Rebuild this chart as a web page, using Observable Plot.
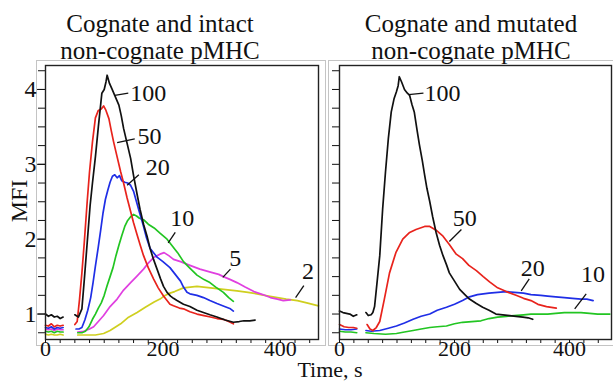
<!DOCTYPE html>
<html>
<head>
<meta charset="utf-8">
<script src="https://cdn.jsdelivr.net/npm/d3@7"></script>
<script src="https://cdn.jsdelivr.net/npm/@observablehq/plot@0.6"></script>
<style>
  body { margin: 0; background: #fff; }
  #wrap { position: relative; width: 613px; height: 381px; overflow: hidden; font-family: "Liberation Serif", "Times New Roman", serif; color: #111; }
  #wrap svg { position: absolute; top: 0; overflow: visible; }
  #wrap svg text { font-family: "Liberation Serif", "Times New Roman", serif !important; }
  .t { position: absolute; font-size: 25px; line-height: 27px; white-space: nowrap; text-align: center; transform: translateX(-50%); }
  .mfi { position: absolute; font-size: 24px; line-height: 24px; white-space: nowrap; transform: translate(-50%, -50%) rotate(-90deg); }
</style>
</head>
<body>
<div id="wrap"></div>
<script>
// ---------- tick values ----------
const yMajor = [1, 2, 3, 4];
const yMinor = [0.75, 1, 1.25, 1.5, 1.75, 2, 2.25, 2.5, 2.75, 3, 3.25, 3.5, 3.75, 4, 4.25];
const xMajor = [0, 200, 400];
const xMinor = [0, 25, 50, 75, 100, 125, 150, 175, 200, 225, 250, 275, 300, 325, 350, 375, 400, 425, 450];

// ---------- left panel: cognate + intact non-cognate pMHC ----------
const left100 = [[0,1.00],[5,0.97],[10,0.99],[15,0.96],[20,0.97],[25,0.94],[30,0.96],[40,NaN],
  [50,0.99],[56,0.96],[62,1.07],[66,1.45],[70,1.85],[76,2.45],[80,2.75],[85,3.1],[90,3.5],[96,3.95],[100,4.0],[103,4.1],[105,4.19],[109,4.08],[113,4.01],[119,3.9],[125,3.79],[129,3.65],[133,3.48],[139,3.28],[145,3.08],[150,2.85],[156,2.6],[161,2.4],[167,2.2],[173,2.04],[178,1.88],[184,1.73],[190,1.6],[196,1.47],[201,1.37],[207,1.29],[213,1.24],[218,1.21],[224,1.18],[235,1.13],[246,1.1],[258,1.05],[269,1.02],[280,0.99],[292,0.96],[306,0.92],[320,0.89],[330,0.9],[338,0.91],[348,0.91],[357,0.92]];
const left50 = [[0,0.85],[5,0.84],[10,0.87],[15,0.83],[20,0.85],[25,0.84],[30,0.85],[40,NaN],
  [50,0.86],[54,0.9],[58,1.2],[62,1.55],[66,1.95],[71,2.5],[75,2.9],[80,3.3],[85,3.62],[90,3.72],[95,3.74],[99,3.78],[103,3.72],[108,3.61],[112,3.45],[116,3.3],[122,3.1],[128,2.9],[133,2.75],[139,2.55],[144,2.4],[150,2.22],[156,2.06],[161,1.93],[167,1.78],[175,1.62],[184,1.47],[192,1.35],[201,1.24],[212,1.13],[218,1.11],[228,1.08],[235,1.07],[246,1.03],[258,1.0],[270,0.98],[281,0.96],[292,0.94],[303,0.93],[312,0.9],[320,0.87]];
const left20 = [[0,0.82],[5,0.81],[10,0.83],[15,0.8],[20,0.82],[25,0.81],[30,0.82],[40,NaN],
  [52,0.8],[57,0.8],[62,0.82],[67,0.92],[72,1.05],[77,1.22],[81,1.42],[85,1.64],[90,1.9],[94,2.12],[98,2.35],[102,2.53],[106,2.65],[110,2.76],[114,2.84],[118,2.86],[122,2.82],[126,2.85],[130,2.78],[135,2.76],[140,2.75],[145,2.72],[150,2.64],[155,2.5],[160,2.36],[166,2.2],[172,2.02],[178,1.88],[184,1.82],[190,1.76],[200,1.7],[212,1.62],[218,1.56],[224,1.5],[230,1.44],[235,1.36],[241,1.29],[246,1.27],[258,1.25],[269,1.22],[280,1.18],[292,1.14],[305,1.1],[315,1.07],[320,1.04]];
const left10 = [[0,0.77],[5,0.76],[10,0.77],[15,0.75],[20,0.77],[25,0.76],[30,0.76],[40,NaN],
  [55,0.75],[62,0.75],[68,0.77],[74,0.83],[80,0.93],[85,1.0],[90,1.08],[95,1.15],[100,1.25],[105,1.38],[110,1.5],[115,1.62],[120,1.78],[125,1.92],[130,2.05],[135,2.17],[140,2.25],[145,2.3],[150,2.33],[155,2.31],[160,2.28],[167,2.26],[175,2.2],[185,2.15],[195,2.08],[207,2.0],[215,1.92],[225,1.82],[235,1.7],[245,1.62],[258,1.52],[270,1.46],[280,1.42],[290,1.36],[303,1.29],[312,1.22],[320,1.17]];
const left5 = [[0,0.8],[5,0.79],[10,0.8],[15,0.78],[20,0.8],[25,0.79],[30,0.79],[40,NaN],
  [55,0.76],[65,0.77],[75,0.8],[82,0.83],[90,0.9],[99,0.98],[110,1.1],[122,1.2],[133,1.32],[145,1.42],[155,1.5],[167,1.6],[175,1.68],[185,1.76],[195,1.8],[202,1.82],[210,1.78],[218,1.73],[230,1.7],[246,1.65],[263,1.6],[281,1.56],[295,1.53],[303,1.5],[315,1.46],[326,1.42],[340,1.36],[355,1.3],[370,1.26],[383,1.22],[395,1.2],[405,1.18],[417,1.19]];
const left2 = [[0,0.73],[5,0.72],[10,0.73],[15,0.72],[20,0.72],[25,0.73],[30,0.72],[40,NaN],
  [55,0.72],[70,0.72],[85,0.72],[99,0.74],[110,0.78],[120,0.83],[128,0.87],[140,0.95],[156,1.02],[170,1.09],[185,1.16],[195,1.2],[202,1.24],[212,1.28],[220,1.3],[235,1.35],[258,1.37],[281,1.35],[303,1.33],[326,1.31],[345,1.29],[360,1.27],[380,1.24],[395,1.22],[410,1.2],[429,1.18],[445,1.15],[465,1.11]];

// label: [t, MFI, text]; leader: [t1, v1, t2, v2]
const leftLabels = [[175,3.95,"100"],[177,3.37,"50"],[191,2.96,"20"],[233,2.28,"10"],[323,1.75,"5"],[447,1.57,"2"]];
const leftLeaders = [[118,3.92,141,3.95],[122,3.29,152,3.34],[139,2.72,159,2.86],[209,1.95,221,2.09],[302,1.49,315,1.6],[426,1.22,440,1.38]];

// ---------- right panel: cognate + mutated non-cognate pMHC ----------
const right100 = [[0,1.04],[6,1.02],[12,1.01],[18,1.0],[24,0.97],[30,0.99],[38,NaN],
  [46,1.02],[50,0.98],[55,0.99],[58,1.02],[61,1.1],[65,1.4],[70,1.78],[75,2.4],[80,2.9],[85,3.35],[90,3.7],[95,3.88],[99,3.97],[102,4.05],[104,4.17],[108,4.1],[113,4.0],[118,3.95],[122,3.92],[126,3.8],[130,3.7],[135,3.45],[139,3.26],[144,3.05],[148,2.86],[152,2.68],[157,2.5],[162,2.3],[168,2.09],[174,1.92],[180,1.78],[186,1.66],[191,1.55],[200,1.44],[209,1.33],[218,1.26],[226,1.2],[238,1.14],[249,1.09],[260,1.05],[272,1.0],[284,0.99],[296,0.98],[307,0.97],[319,0.96],[328,0.95],[336,0.93]];
const right50 = [[0,0.86],[8,0.83],[16,0.82],[24,0.82],[30,0.81],[38,NaN],
  [48,0.86],[53,0.8],[58,0.78],[64,0.82],[70,0.9],[78,1.2],[87,1.55],[98,1.82],[110,2.0],[122,2.09],[133,2.13],[148,2.17],[157,2.17],[168,2.12],[180,2.04],[191,1.93],[203,1.8],[214,1.74],[225,1.65],[238,1.58],[250,1.5],[261,1.43],[275,1.35],[290,1.3],[307,1.25],[320,1.21],[333,1.18],[345,1.13],[360,1.1],[377,1.08]];
const right20 = [[0,0.8],[10,0.79],[20,0.79],[30,0.8],[38,NaN],
  [46,0.78],[55,0.77],[70,0.78],[85,0.81],[99,0.84],[113,0.88],[128,0.93],[142,0.97],[157,1.0],[170,1.05],[186,1.09],[200,1.13],[214,1.18],[226,1.23],[240,1.26],[260,1.28],[275,1.29],[290,1.3],[304,1.29],[320,1.28],[333,1.26],[350,1.25],[362,1.24],[376,1.23],[391,1.22],[405,1.21],[420,1.2],[430,1.2],[441,1.18]];
const right10 = [[0,0.77],[10,0.76],[20,0.76],[30,0.75],[38,NaN],
  [46,0.75],[60,0.74],[80,0.73],[99,0.74],[113,0.76],[128,0.78],[142,0.8],[157,0.82],[170,0.83],[186,0.84],[200,0.87],[214,0.89],[230,0.9],[246,0.91],[260,0.94],[275,0.96],[290,0.97],[304,0.98],[320,0.99],[333,1.0],[350,1.0],[362,1.0],[376,1.01],[391,1.02],[405,1.02],[420,1.02],[435,1.01],[449,1.0],[470,1.0]];

const rightLabels = [[179,3.95,"100"],[218,2.28,"50"],[336,1.61,"20"],[441,1.53,"10"]];
const rightLeaders = [[120,3.93,146,3.95],[191,1.97,212,2.13],[316,1.31,330,1.47],[409,1.07,429,1.27]];

const colors = {"100": "#111111", "50": "#e8231c", "20": "#1f2ee6", "10": "#22c522", "5": "#e040e0", "2": "#cfcf1f"};

// ---------- drawing ----------
const FONT = '"Liberation Serif", "Times New Roman", serif';
const yDomain = [0.66, 4.32];

function lineMark(data, key) {
  return Plot.line(data, {x: d => d[0], y: d => d[1], stroke: colors[key], strokeWidth: 1.7, strokeLinejoin: "round"});
}

function panel({width, marginLeft, marginRight, xMax, series, labels, leaders, showY, gray}) {
  const marks = [
    Plot.frame({stroke: "#c4c4c4", strokeWidth: 1, ...gray}),
    Plot.axisY({ticks: yMinor, tickSize: 7, tickFormat: () => "", label: null}),
    Plot.axisX({ticks: xMinor, tickSize: 4, tickFormat: () => "", label: null}),
    Plot.axisX({ticks: xMajor, tickSize: 4, tickPadding: -3, fontSize: 22, fontFamily: FONT, tickFormat: d3.format("d"), label: null}),
  ];
  if (showY) {
    marks.push(Plot.axisY({ticks: yMajor, tickSize: 8, tickPadding: 1, fontSize: 24, fontFamily: FONT, tickFormat: d3.format("d"), label: null}));
  }
  for (const [key, data] of series) marks.push(lineMark(data, key));
  marks.push(Plot.link(leaders, {x1: d => d[0], y1: d => d[1], x2: d => d[2], y2: d => d[3], stroke: "#111", strokeWidth: 1.3}));
  marks.push(Plot.text(labels, {x: d => d[0], y: d => d[1], text: d => d[2], fontSize: 24, fontFamily: FONT, fill: "#111"}));
  marks.push(Plot.frame({stroke: "#222", strokeWidth: 1.4}));
  const svg = Plot.plot({
    width, height: 381,
    marginLeft, marginRight, marginTop: 65, marginBottom: 42,
    x: {domain: [0, xMax], label: null},
    y: {domain: yDomain, label: null},
    style: {fontFamily: FONT, fontSize: "24px", color: "#111", background: "transparent", overflow: "visible"},
    marks
  });
  svg.style.fontFamily = FONT;
  return svg;
}

const wrap = document.getElementById("wrap");

const leftSvg = panel({
  width: 327, marginLeft: 45, marginRight: 9, xMax: 465,
  series: [["2", left2], ["5", left5], ["10", left10], ["20", left20], ["50", left50], ["100", left100]],
  labels: leftLabels, leaders: leftLeaders, showY: true,
  gray: {insetLeft: -9, insetTop: -5, insetRight: -7, insetBottom: -6}
});
leftSvg.style.left = "0px";
wrap.appendChild(leftSvg);

const rightSvg = panel({
  width: 286, marginLeft: 12, marginRight: 2, xMax: 473,
  series: [["10", right10], ["20", right20], ["50", right50], ["100", right100]],
  labels: rightLabels, leaders: rightLeaders, showY: false,
  gray: {insetLeft: -11, insetTop: -5, insetRight: -6, insetBottom: -6}
});
rightSvg.style.left = "327px";
wrap.appendChild(rightSvg);

// titles and shared axis labels
function addText(txt, cx, top, size, lh) {
  const d = document.createElement("div");
  d.className = "t";
  d.style.left = cx + "px";
  d.style.top = top + "px";
  if (size) d.style.fontSize = size + "px";
  if (lh) d.style.lineHeight = lh + "px";
  d.innerHTML = txt;
  wrap.appendChild(d);
}
addText("Cognate and intact<br>non-cognate pMHC", 160, 10);
addText("Cognate and mutated<br>non-cognate pMHC", 471, 10);
addText("Time, s", 330, 361, 22, 17);

const mfi = document.createElement("div");
mfi.className = "mfi";
mfi.style.left = "19px";
mfi.style.top = "201px";
mfi.textContent = "MFI";
wrap.appendChild(mfi);
</script>
</body>
</html>
